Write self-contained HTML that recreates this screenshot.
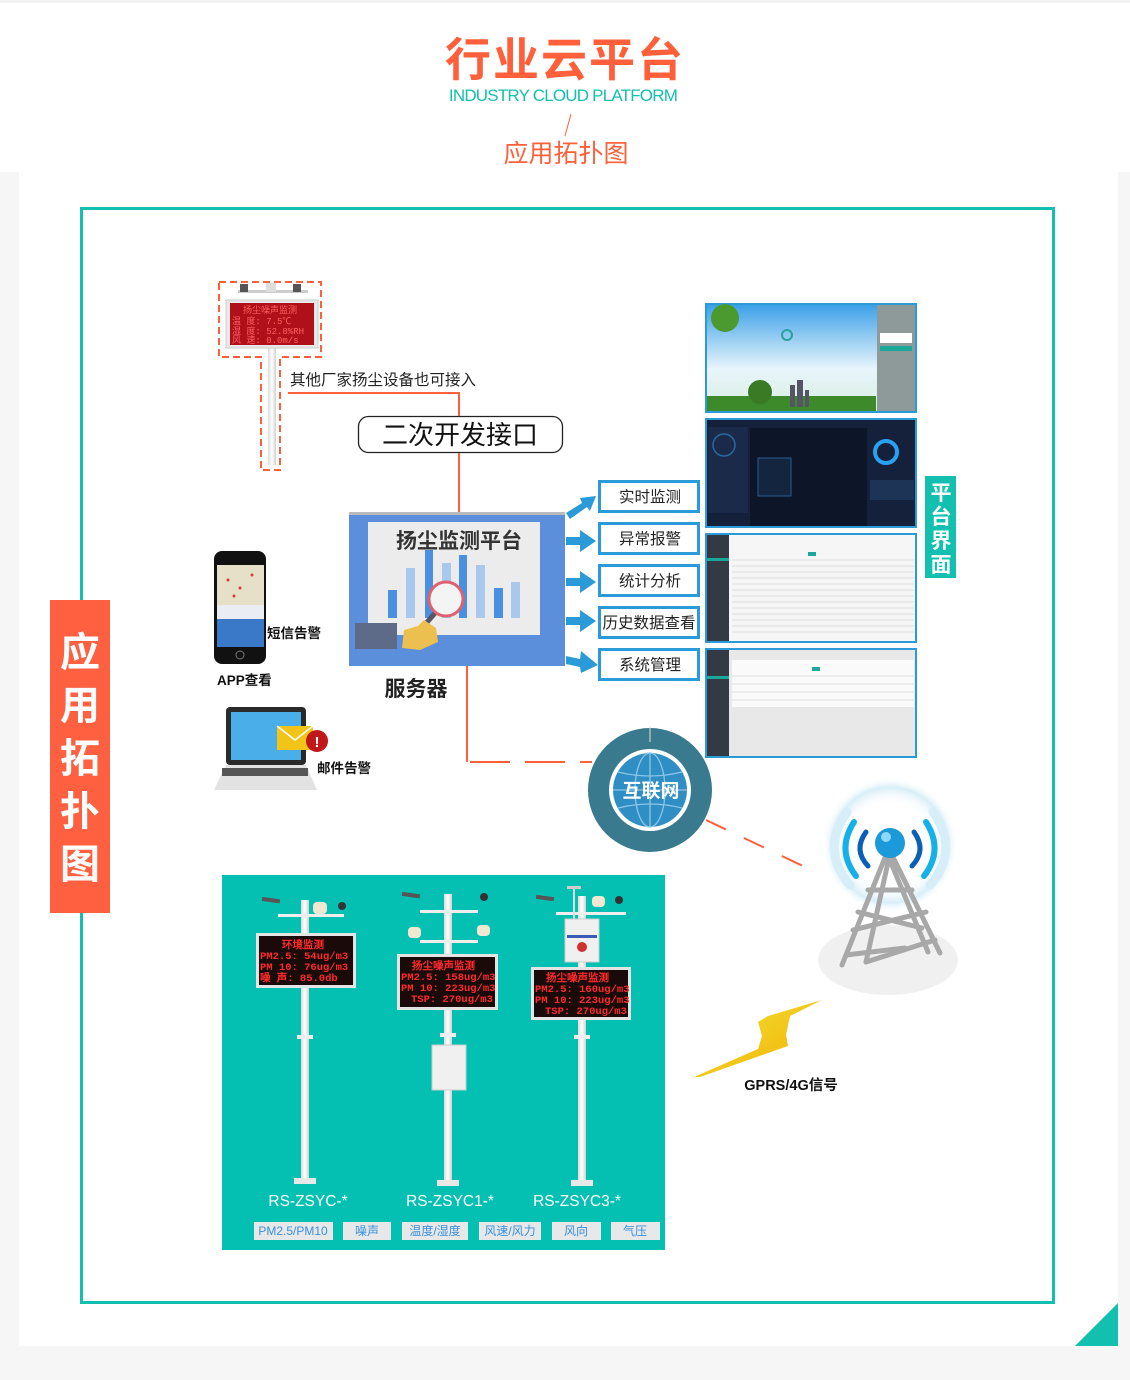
<!DOCTYPE html>
<html><head><meta charset="utf-8"><style>
html,body{margin:0;padding:0;background:#f6f6f6;}
svg{display:block;font-family:"Liberation Sans","Noto Sans CJK SC",sans-serif;}
</style></head><body>
<svg width="1130" height="1380" viewBox="0 0 1130 1380" xmlns="http://www.w3.org/2000/svg">
<defs>
<linearGradient id="sky" x1="0" y1="0" x2="0" y2="1"><stop offset="0" stop-color="#3aa0e8"/><stop offset="0.6" stop-color="#e8f4fb"/><stop offset="1" stop-color="#d8efe0"/></linearGradient>
<linearGradient id="bolt" x1="0" y1="0" x2="1" y2="1"><stop offset="0" stop-color="#f5e23a"/><stop offset="1" stop-color="#f0b000"/></linearGradient>
<radialGradient id="halo" cx="0.5" cy="0.5" r="0.5"><stop offset="0.6" stop-color="#ffffff" stop-opacity="0"/><stop offset="0.85" stop-color="#d8eef8"/><stop offset="1" stop-color="#ffffff" stop-opacity="0"/></radialGradient>
<linearGradient id="pole" x1="0" x2="1"><stop offset="0" stop-color="#dcdcdc"/><stop offset="0.5" stop-color="#ffffff"/><stop offset="1" stop-color="#d0d0d0"/></linearGradient>
</defs>
<rect x="0" y="0" width="1130" height="172" fill="#ffffff"/>
<rect x="0" y="0" width="1130" height="3" fill="#f2f2f2"/>
<text x="565" y="76" text-anchor="middle" font-size="46" font-weight="bold" fill="#ff5f3a" letter-spacing="2">行业云平台</text>
<text x="563" y="101" text-anchor="middle" font-size="17" fill="#14bfae" letter-spacing="-0.8">INDUSTRY CLOUD PLATFORM</text>
<line x1="571" y1="114" x2="565" y2="136" stroke="#ff5f3a" stroke-width="1"/>
<text x="566" y="162" text-anchor="middle" font-size="25" fill="#ff5f3a">应用拓扑图</text>
<rect x="19" y="172" width="1099" height="1174" fill="#ffffff"/>
<rect x="81.5" y="208.5" width="972" height="1094" fill="none" stroke="#13c0b0" stroke-width="3"/>
<polygon points="1075,1346 1118,1303 1118,1346" fill="#13c0b0"/>
<rect x="50" y="600" width="60" height="313" fill="#ff6040"/>
<g font-size="40" font-weight="bold" fill="#fff" text-anchor="middle">
<text x="80" y="666">应</text><text x="80" y="719">用</text><text x="80" y="772">拓</text><text x="80" y="825">扑</text><text x="80" y="878">图</text></g>

<rect x="268" y="345" width="8" height="120" fill="url(#pole)"/>
<rect x="238" y="290" width="70" height="3" fill="#ccc"/>
<g fill="#555"><rect x="240" y="284" width="8" height="8"/><rect x="266" y="283" width="10" height="9" fill="#ddd"/><rect x="293" y="284" width="8" height="8"/></g>
<rect x="226" y="300" width="92" height="48" fill="#e8e8e8" stroke="#ccc"/>
<rect x="230" y="303" width="84" height="42" fill="#b0101a"/>
<g font-size="9" fill="#ff6060" font-family="Liberation Mono,monospace"><text x="243" y="313">扬尘噪声监测</text><text x="232" y="324">温 度: 7.5℃</text><text x="232" y="334">湿 度: 52.8%RH</text><text x="232" y="343">风 速: 0.0m/s</text></g>
<polygon points="219,282 321,282 321,357 280,357 280,470 261,470 261,357 219,357" fill="none" stroke="#ff5f3a" stroke-width="2" stroke-dasharray="7,4"/>
<text x="290" y="385" font-size="15.5" fill="#222">其他厂家扬尘设备也可接入</text>
<polyline points="288,393 459,393 459,416" fill="none" stroke="#ff5f3a" stroke-width="2"/>
<rect x="358.5" y="416.5" width="204" height="36" rx="10" fill="#fff" stroke="#222" stroke-width="1.3"/>
<text x="460" y="444" text-anchor="middle" font-size="26" fill="#111">二次开发接口</text>
<line x1="459" y1="453" x2="459" y2="512" stroke="#ff5f3a" stroke-width="2"/>

<rect x="349" y="512" width="216" height="154" fill="#5b8edb"/>
<rect x="349" y="512" width="216" height="3" fill="#bbb"/>
<rect x="368" y="522" width="172" height="113" fill="#ececec"/>
<g fill="#4a90e0"><rect x="388" y="590" width="9" height="28"/><rect x="425" y="550" width="8" height="68"/><rect x="459" y="555" width="8" height="63"/><rect x="494" y="588" width="9" height="30"/></g>
<g fill="#a8c8ee"><rect x="406" y="568" width="9" height="50"/><rect x="442" y="563" width="9" height="55"/><rect x="476" y="565" width="9" height="53"/><rect x="511" y="582" width="9" height="36"/></g>
<text x="459" y="548" text-anchor="middle" font-size="21" font-weight="bold" fill="#333">扬尘监测平台</text>
<line x1="436" y1="612" x2="422" y2="628" stroke="#556" stroke-width="5"/>
<circle cx="446" cy="599" r="17" fill="#f4f4f4" stroke="#e06070" stroke-width="3"/>
<rect x="355" y="623" width="42" height="26" fill="#5d6a88"/>
<path d="M402,648 L404,630 L418,626 L424,620 L436,628 L438,642 L420,650 Z" fill="#ecc04e"/>
<text x="416" y="696" text-anchor="middle" font-size="21" font-weight="bold" fill="#222">服务器</text>
<polyline points="467,666 467,762" fill="none" stroke="#ff5f3a" stroke-width="2"/>
<line x1="470" y1="762" x2="592" y2="762" stroke="#ff5f3a" stroke-width="2" stroke-dasharray="40,15"/>

<g fill="#2a9bd8">
<polygon points="566,513 582,503 580,498 596,496 590,511 587,507 570,519"/>
<polygon points="566,537 580,537 580,530 596,541 580,552 580,545 566,545"/>
<polygon points="566,578 580,578 580,571 596,582 580,593 580,586 566,586"/>
<polygon points="566,617 580,617 580,610 596,621 580,632 580,625 566,625"/>
<polygon points="566,656 580,659 581,651 598,665 581,673 580,667 566,664"/>
</g>
<g fill="#fff" stroke="#2a9bd8" stroke-width="3">
<rect x="599.5" y="481.5" width="99" height="30"/><rect x="599.5" y="523.5" width="99" height="30"/><rect x="599.5" y="565.5" width="99" height="30"/><rect x="599.5" y="607.5" width="99" height="30"/><rect x="599.5" y="649.5" width="99" height="30"/></g>
<g font-size="15.5" fill="#222" text-anchor="middle">
<text x="650" y="502">实时监测</text><text x="650" y="544">异常报警</text><text x="650" y="586">统计分析</text><text x="649" y="628">历史数据查看</text><text x="650" y="670">系统管理</text></g>

<rect x="706" y="304" width="210" height="108" fill="url(#sky)" stroke="#2a9bd8" stroke-width="2"/>
<rect x="877" y="305" width="38" height="106" fill="#8e9a9a"/>
<rect x="880" y="333" width="32" height="10" fill="#fff"/><rect x="880" y="346" width="32" height="5" fill="#1aa89a"/>
<circle cx="725" cy="318" r="14" fill="#4a9a30"/>
<rect x="707" y="396" width="169" height="15" fill="#3d8a2a"/>
<g fill="#556"><rect x="790" y="385" width="5" height="22"/><rect x="797" y="380" width="6" height="27"/><rect x="805" y="390" width="4" height="17"/></g>
<circle cx="760" cy="392" r="12" fill="#3a7a25"/>
<circle cx="787" cy="335" r="5" fill="none" stroke="#2aa0a0" stroke-width="2"/>
<rect x="706" y="419" width="210" height="108" fill="#15213a" stroke="#2a9bd8" stroke-width="2"/>
<rect x="750" y="428" width="117" height="98" fill="#0c1628"/>
<rect x="708" y="427" width="40" height="86" fill="#1a2a48"/>
<circle cx="724" cy="445" r="11" fill="none" stroke="#2a6aa0" stroke-width="1.5"/>
<circle cx="886" cy="452" r="11" fill="none" stroke="#2aa0f0" stroke-width="4"/>
<rect x="758" y="458" width="33" height="38" fill="#14253f" stroke="#2a5a90" stroke-width="1"/>
<rect x="870" y="480" width="44" height="20" fill="#1e3456"/>
<rect x="706" y="534" width="210" height="108" fill="#f6f6f6" stroke="#2a9bd8" stroke-width="2"/>
<rect x="707" y="535" width="22" height="106" fill="#333a44"/>
<rect x="707" y="558" width="22" height="3" fill="#1aa89a"/>
<g stroke="#ddd" stroke-width="1"><line x1="732" y1="560" x2="914" y2="560"/><line x1="732" y1="566" x2="914" y2="566"/><line x1="732" y1="572" x2="914" y2="572"/><line x1="732" y1="578" x2="914" y2="578"/><line x1="732" y1="584" x2="914" y2="584"/><line x1="732" y1="590" x2="914" y2="590"/><line x1="732" y1="596" x2="914" y2="596"/><line x1="732" y1="602" x2="914" y2="602"/><line x1="732" y1="608" x2="914" y2="608"/><line x1="732" y1="614" x2="914" y2="614"/><line x1="732" y1="620" x2="914" y2="620"/><line x1="732" y1="626" x2="914" y2="626"/><line x1="732" y1="632" x2="914" y2="632"/></g>
<rect x="808" y="552" width="8" height="4" fill="#1aa89a"/>
<rect x="706" y="649" width="210" height="108" fill="#e8e8e8" stroke="#2a9bd8" stroke-width="2"/>
<rect x="707" y="650" width="22" height="106" fill="#333a44"/>
<rect x="707" y="676" width="22" height="3" fill="#1aa89a"/>
<rect x="732" y="660" width="182" height="47" fill="#fafafa"/>
<g stroke="#ddd"><line x1="732" y1="676" x2="914" y2="676"/><line x1="732" y1="684" x2="914" y2="684"/><line x1="732" y1="692" x2="914" y2="692"/><line x1="732" y1="700" x2="914" y2="700"/></g>
<rect x="812" y="667" width="8" height="4" fill="#1aa89a"/>

<rect x="925" y="476" width="31" height="102" fill="#13c0b0"/>
<g font-size="21" font-weight="bold" fill="#fff" text-anchor="middle"><text x="941" y="500">平</text><text x="941" y="524">台</text><text x="941" y="548">界</text><text x="941" y="572">面</text></g>

<circle cx="650" cy="790" r="62" fill="#3a7a8e"/>
<circle cx="650" cy="790" r="41" fill="#fff"/>
<circle cx="650" cy="790" r="37" fill="#2f8ec4"/>
<g stroke="#8cc6e8" stroke-width="1.3" fill="none"><ellipse cx="650" cy="790" rx="15" ry="37"/><line x1="650" y1="753" x2="650" y2="827"/><line x1="613" y1="790" x2="687" y2="790"/><path d="M618,772 Q650,780 682,772"/><path d="M618,808 Q650,800 682,808"/></g>
<line x1="650" y1="726" x2="650" y2="742" stroke="#ddd" stroke-width="1"/>
<text x="651" y="797" text-anchor="middle" font-size="19" font-weight="bold" fill="#fff">互联网</text>
<line x1="706" y1="820" x2="805" y2="867" stroke="#ff5f3a" stroke-width="2" stroke-dasharray="22,20"/>

<!-- tower -->
<ellipse cx="888" cy="960" rx="70" ry="35" fill="#f0f0f0"/>
<circle cx="890" cy="845" r="68" fill="url(#halo)"/>
<g fill="none" stroke-linecap="round">
<path d="M847,812 Q820,850 850,885" stroke="#d5eef8" stroke-width="9"/>
<path d="M933,812 Q960,850 930,885" stroke="#d5eef8" stroke-width="9"/>
<path d="M854,822 Q836,850 856,876" stroke="#16b0e8" stroke-width="6"/>
<path d="M926,822 Q944,850 924,876" stroke="#16b0e8" stroke-width="6"/>
<path d="M866,832 Q853,850 868,866" stroke="#0b5fb8" stroke-width="5"/>
<path d="M914,832 Q927,850 912,866" stroke="#0b5fb8" stroke-width="5"/>
</g>
<g stroke="#a8a8a8" stroke-width="5" stroke-linecap="round" fill="none">
<line x1="886" y1="855" x2="842" y2="965"/><line x1="892" y1="855" x2="940" y2="953"/><line x1="889" y1="858" x2="866" y2="962"/><line x1="889" y1="858" x2="928" y2="952"/>
<line x1="868" y1="890" x2="912" y2="890"/><line x1="858" y1="912" x2="922" y2="928"/><line x1="853" y1="930" x2="926" y2="912"/><line x1="866" y1="962" x2="935" y2="940"/><line x1="846" y1="955" x2="905" y2="948"/></g>
<circle cx="890" cy="843" r="15" fill="#1a9ad8"/><circle cx="886" cy="837" r="5" fill="#8fd8f8"/>
<!-- bolt -->
<polygon points="822,1000 790,1016 786,1035 788,1046 700,1077 694,1077 758,1049 762,1036 758,1022 768,1016" fill="url(#bolt)"/>
<text x="791" y="1090" text-anchor="middle" font-size="14.5" font-weight="bold" fill="#111">GPRS/4G信号</text>

<rect x="214" y="551" width="52" height="113" rx="8" fill="#111"/>
<rect x="217" y="565" width="47" height="82" fill="#e6e0c8"/>
<rect x="217" y="605" width="47" height="14" fill="#eaeef4"/>
<rect x="217" y="619" width="47" height="28" fill="#3a78c8"/>
<circle cx="240" cy="655" r="4" fill="none" stroke="#777" stroke-width="1"/>
<g fill="#d04040"><circle cx="228" cy="580" r="1.5"/><circle cx="240" cy="588" r="1.5"/><circle cx="252" cy="575" r="1.5"/><circle cx="234" cy="596" r="1.5"/></g>
<text x="267" y="638" font-size="13.5" font-weight="bold" fill="#111">短信告警</text>
<text x="217" y="685" font-size="13.5" font-weight="bold" fill="#111">APP查看</text>
<rect x="226" y="707" width="80" height="58" rx="4" fill="#2a2a2a"/>
<rect x="231" y="712" width="70" height="48" fill="#4aaee8"/>
<polygon points="214,790 226,765 306,765 317,790" fill="#e2e2e2"/>
<rect x="222" y="768" width="86" height="8" fill="#555"/>
<rect x="277" y="726" width="36" height="24" fill="#f2c418"/>
<polyline points="277,726 295,740 313,726" fill="none" stroke="#fff" stroke-width="1.5"/>
<circle cx="317" cy="741" r="11" fill="#c01818"/>
<text x="317" y="747" text-anchor="middle" font-size="15" font-weight="bold" fill="#fff">!</text>
<text x="317" y="773" font-size="13.5" font-weight="bold" fill="#111">邮件告警</text>

<rect x="222" y="875" width="443" height="375" fill="#03c0b3"/>
<rect x="301" y="900" width="8" height="280" fill="url(#pole)"/>
<rect x="297" y="1035" width="16" height="4" fill="#eee"/>
<rect x="294" y="1178" width="22" height="6" fill="#e8e8e8"/>
<rect x="278" y="914" width="66" height="3" fill="#eee"/>
<rect x="262" y="898" width="18" height="4" fill="#555" transform="rotate(8 270 900)"/>
<rect x="313" y="902" width="14" height="12" rx="4" fill="#f0e8d0"/>
<circle cx="342" cy="906" r="4" fill="#333"/>
<rect x="256" y="933" width="100" height="55" fill="#e4e4e4"/>
<rect x="259" y="936" width="94" height="49" fill="#1a0a0a"/>
<g font-family="Liberation Mono,monospace" font-size="10.5" fill="#ff2a2a" font-weight="bold"><text x="282" y="948">环境监测</text><text x="260" y="959">PM2.5: 54ug/m3</text><text x="260" y="970">PM 10: 76ug/m3</text><text x="260" y="981">噪 声: 85.0db</text></g>
<rect x="444" y="894" width="8" height="288" fill="url(#pole)"/>
<rect x="440" y="1033" width="16" height="4" fill="#eee"/>
<rect x="437" y="1180" width="22" height="6" fill="#e8e8e8"/>
<rect x="420" y="910" width="58" height="3" fill="#eee"/><rect x="420" y="940" width="58" height="3" fill="#eee"/>
<rect x="402" y="893" width="18" height="4" fill="#555" transform="rotate(8 410 895)"/>
<circle cx="484" cy="897" r="4" fill="#333"/>
<rect x="408" y="927" width="13" height="11" rx="4" fill="#f0e8d0"/><rect x="477" y="925" width="13" height="11" rx="4" fill="#f0e8d0"/>
<rect x="397" y="954" width="101" height="56" fill="#e4e4e4"/>
<rect x="400" y="957" width="95" height="50" fill="#1a0a0a"/>
<g font-family="Liberation Mono,monospace" font-size="10.5" fill="#ff2a2a" font-weight="bold"><text x="412" y="969">扬尘噪声监测</text><text x="401" y="980">PM2.5: 158ug/m3</text><text x="401" y="991">PM 10: 223ug/m3</text><text x="411" y="1002">TSP: 270ug/m3</text></g>
<rect x="432" y="1045" width="34" height="45" fill="#f0f0f0" stroke="#ccc"/>
<rect x="578" y="896" width="8" height="286" fill="url(#pole)"/>
<rect x="574" y="1035" width="16" height="4" fill="#eee"/>
<rect x="571" y="1180" width="22" height="6" fill="#e8e8e8"/>
<rect x="556" y="912" width="70" height="3" fill="#eee"/>
<rect x="573" y="888" width="2" height="32" fill="#ddd"/><rect x="567" y="886" width="14" height="3" fill="#ccc"/>
<rect x="536" y="896" width="18" height="4" fill="#555" transform="rotate(8 545 898)"/>
<rect x="592" y="896" width="13" height="11" rx="4" fill="#f0e8d0"/>
<circle cx="619" cy="900" r="4" fill="#333"/>
<rect x="565" y="919" width="34" height="43" fill="#f0f0f0" stroke="#ccc"/>
<rect x="567" y="935" width="30" height="3" fill="#3a5ab8"/>
<circle cx="582" cy="947" r="5" fill="#d03030"/>
<rect x="531" y="967" width="100" height="53" fill="#e4e4e4"/>
<rect x="534" y="970" width="94" height="47" fill="#1a0a0a"/>
<g font-family="Liberation Mono,monospace" font-size="10.5" fill="#ff2a2a" font-weight="bold"><text x="546" y="981">扬尘噪声监测</text><text x="535" y="992">PM2.5: 160ug/m3</text><text x="535" y="1003">PM 10: 223ug/m3</text><text x="545" y="1014">TSP: 270ug/m3</text></g>
<g font-size="15.5" fill="#fff" text-anchor="middle"><text x="308" y="1206">RS-ZSYC-*</text><text x="450" y="1206">RS-ZSYC1-*</text><text x="577" y="1206">RS-ZSYC3-*</text></g>
<g fill="#e6e8ea"><rect x="254" y="1222" width="79" height="18"/><rect x="343" y="1222" width="48" height="18"/><rect x="402" y="1222" width="66" height="18"/><rect x="479" y="1222" width="62" height="18"/><rect x="552" y="1222" width="49" height="18"/><rect x="611" y="1222" width="49" height="18"/></g>
<g font-size="12" fill="#3a90d8" text-anchor="middle"><text x="293" y="1235">PM2.5/PM10</text><text x="367" y="1235">噪声</text><text x="435" y="1235">温度/湿度</text><text x="510" y="1235">风速/风力</text><text x="576" y="1235">风向</text><text x="635" y="1235">气压</text></g>
</svg>
</body></html>
